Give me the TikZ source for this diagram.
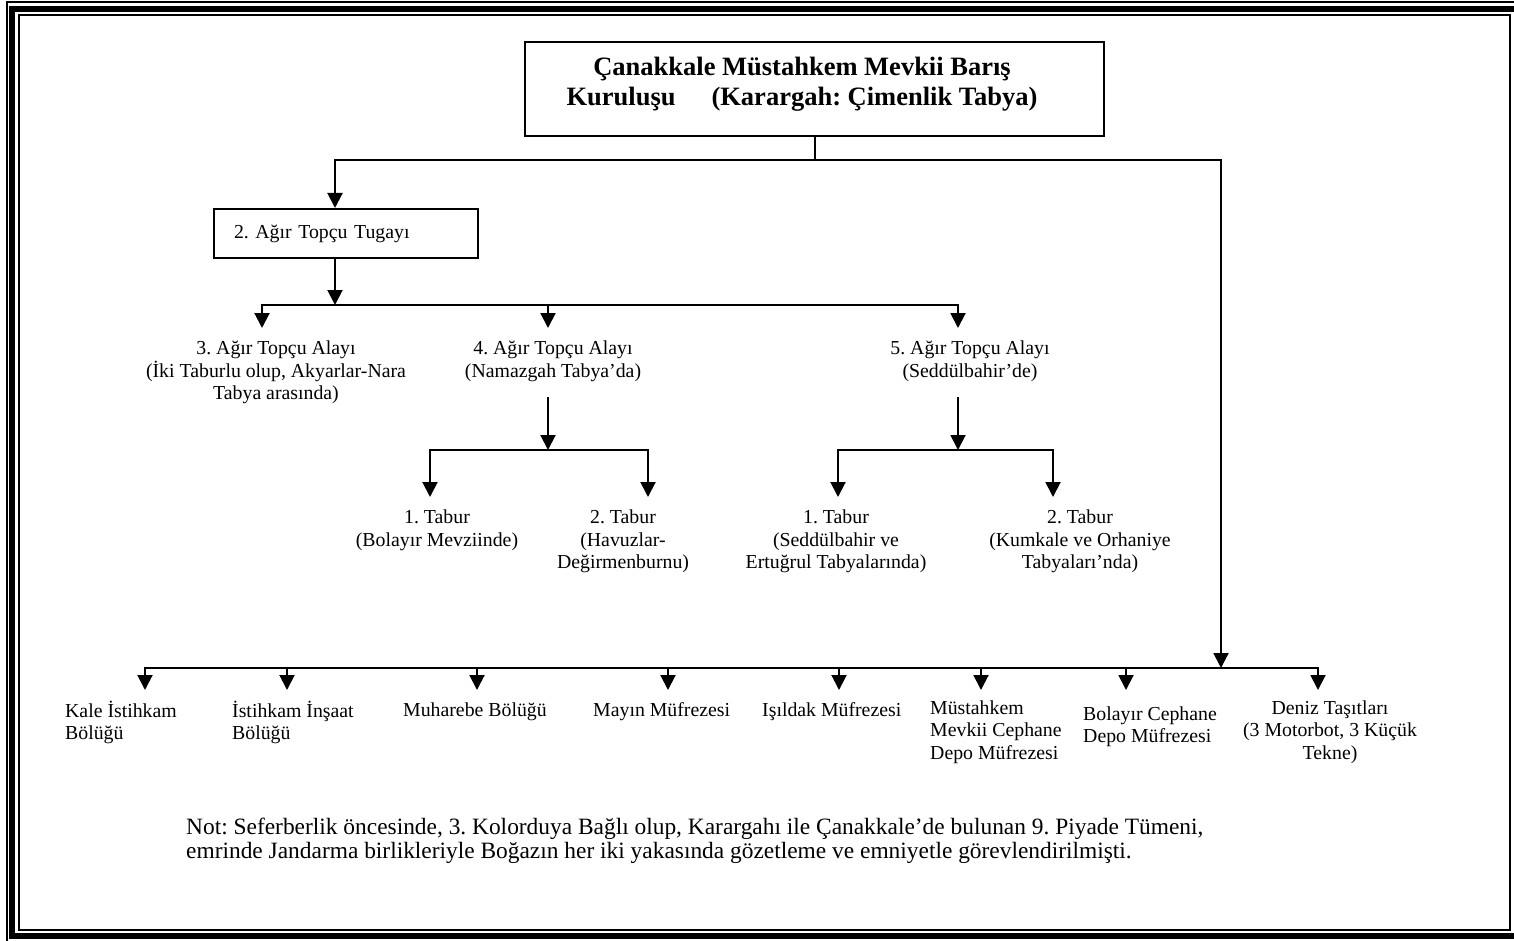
\documentclass[tikz,border=0pt]{standalone}
\usepackage{fontspec}
\setmainfont{Liberation Serif}
\usetikzlibrary{arrows.meta}
\frenchspacing
\newcommand{\lblfont}{\fontsize{19.8pt}{22.5pt}\selectfont}
\newcommand{\notfont}{\fontsize{23.4pt}{24pt}\selectfont}
\newcommand{\ttlfont}{\bfseries\fontsize{26.5pt}{30pt}\selectfont}

\begin{document}
\begin{tikzpicture}[x=1pt, y=-1pt,
	line/.style={line width=2pt},
	arr/.style={line width=2pt, -{Triangle[width=15pt,length=15pt]}},
	titlebox/.style={draw, line width=2pt, minimum width=579pt, minimum height=94pt, align=center, font=\ttlfont},
	box/.style={draw, line width=2pt, text width=224pt, inner xsep=20pt, minimum height=49pt, align=left, font=\lblfont},
	lbl/.style={anchor=north, align=center, inner xsep=0pt, inner ysep=13pt, font=\lblfont, execute at begin node=\strut},
	unit/.style={anchor=north west, align=left, inner xsep=0pt, inner ysep=10.5pt, font=\lblfont, execute at begin node=\strut}]
	\useasboundingbox (0,0) rectangle (1514,941);
	\draw[line width=2pt] (7,2) rectangle (1522,942);
	\draw[line width=6pt] (12,9) rectangle (1517,936);
	\draw[line width=2pt] (19,15) rectangle (1510,929.5);

	\node[titlebox] (kurulus) at (814.5,89) {Çanakkale Müstahkem Mevkii Barış\hspace*{25pt}\\Kuruluşu\hspace{36pt}(Karargah: Çimenlik Tabya)\hspace*{25pt}\rule[-16pt]{0pt}{0pt}};
	\node[box] (tugay) at (346,233.5) {2. Ağır Topçu Tugayı};

	\node[lbl] (alay3) at (276,328) {3. Ağır Topçu Alayı\\(İki Taburlu olup, Akyarlar-Nara\\Tabya arasında)};
	\node[lbl] (alay4) at (553,328) {4. Ağır Topçu Alayı\\(Namazgah Tabya’da)};
	\node[lbl] (alay5) at (970,328) {5. Ağır Topçu Alayı\\(Seddülbahir’de)};

	\node[lbl] (tabur41) at (437,497) {1. Tabur\\(Bolayır Mevziinde)};
	\node[lbl] (tabur42) at (623,497) {2. Tabur\\(Havuzlar-\\Değirmenburnu)};
	\node[lbl] (tabur51) at (836,497) {1. Tabur\\(Seddülbahir ve\\Ertuğrul Tabyalarında)};
	\node[lbl] (tabur52) at (1080,497) {2. Tabur\\(Kumkale ve Orhaniye\\Tabyaları’nda)};

	\node[unit] (istihkam) at (65,690) {Kale İstihkam\\Bölüğü};
	\node[unit] (insaat) at (232,690) {İstihkam İnşaat\\Bölüğü};
	\node[unit] (muharebe) at (403,690) {Muharebe Bölüğü};
	\node[unit] (mayin) at (593,690) {Mayın Müfrezesi};
	\node[unit] (isildak) at (762,690) {Işıldak Müfrezesi};
	\node[unit] (cephane) at (930,690) {Müstahkem\\Mevkii Cephane\\Depo Müfrezesi};
	\node[unit] (bolayir) at (1083,696) {Bolayır Cephane\\Depo Müfrezesi};
	\node[unit, anchor=north, align=center] (deniz) at (1330,690) {Deniz Taşıtları\\(3 Motorbot, 3 Küçük\\Tekne)};

	\node[unit, inner ysep=0pt, font=\notfont] (not) at (186,818) {Not: Seferberlik öncesinde, 3. Kolorduya Bağlı olup, Karargahı ile Çanakkale’de bulunan 9. Piyade Tümeni,\\emrinde Jandarma birlikleriyle Boğazın her iki yakasında gözetleme ve emniyetle görevlendirilmişti.};

	\coordinate (j0) at (814.5,160);
	\coordinate (j1) at (335,305);
	\coordinate (j2) at (548,450);
	\coordinate (j3) at (958,450);
	\coordinate (j4) at (1221,668);

	\draw[line] (kurulus.south) -- (j0);
	\draw[arr] (j0) -| ([xshift=-11pt]tugay.north);
	\draw[arr] (j0) -| (j4);

	\draw[arr] ([xshift=-11pt]tugay.south) -- (j1);
	\draw[arr] (j1) -| ([xshift=-14pt]alay3.north);
	\draw[arr] (j1) -| ([xshift=-5pt]alay4.north);
	\draw[arr] (j1) -| ([xshift=-12pt]alay5.north);

	\draw[arr] ([xshift=-5pt]alay4.south) -- (j2);
	\draw[arr] (j2) -| ([xshift=-7pt]tabur41.north);
	\draw[arr] (j2) -| ([xshift=25pt]tabur42.north);

	\draw[arr] ([xshift=-12pt]alay5.south) -- (j3);
	\draw[arr] (j3) -| ([xshift=2pt]tabur51.north);
	\draw[arr] (j3) -| ([xshift=-27pt]tabur52.north);

	\draw[arr] (j4) -| ([xshift=80pt]istihkam.north west);
	\draw[arr] (j4) -| ([xshift=55pt]insaat.north west);
	\draw[arr] (j4) -| ([xshift=74pt]muharebe.north west);
	\draw[arr] (j4) -| ([xshift=75pt]mayin.north west);
	\draw[arr] (j4) -| ([xshift=77pt]isildak.north west);
	\draw[arr] (j4) -| ([xshift=51pt]cephane.north west);
	\draw[arr] (j4) -| ([xshift=43pt,yshift=6pt]bolayir.north west);
	\draw[arr] (j4) -| ([xshift=-12pt]deniz.north);
\end{tikzpicture}
\end{document}
